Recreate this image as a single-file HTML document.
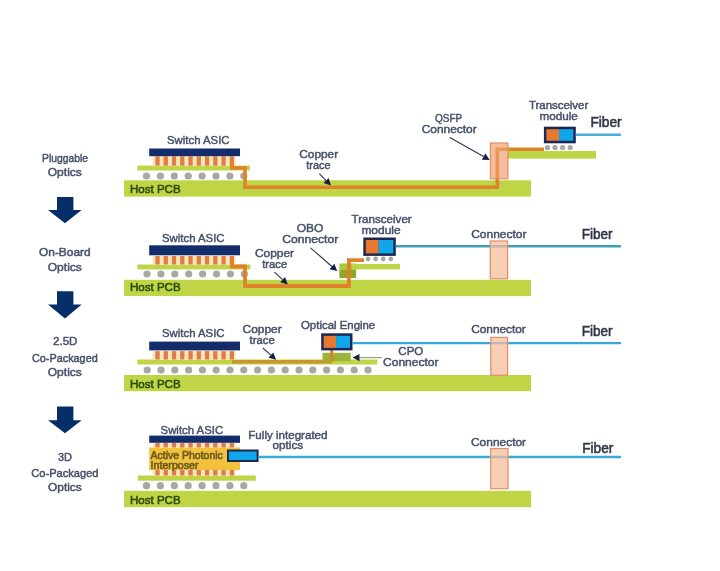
<!DOCTYPE html>
<html><head><meta charset="utf-8"><style>
html,body{margin:0;padding:0;background:#fff;}
svg{display:block;font-family:"Liberation Sans",sans-serif;filter:blur(0.7px);}
</style></head><body>
<svg width="720" height="571" viewBox="0 0 720 571">
<rect width="720" height="571" fill="#ffffff"/>
<text x="42.00" y="161.50" font-size="11" fill="#46506a" stroke="#46506a" stroke-width="0.45" font-weight="normal" textLength="46.00" lengthAdjust="spacingAndGlyphs">Pluggable</text>
<text x="47.80" y="175.50" font-size="11" fill="#46506a" stroke="#46506a" stroke-width="0.45" font-weight="normal" textLength="34.00" lengthAdjust="spacingAndGlyphs">Optics</text>
<polygon points="57.00,197.00 73.40,197.00 73.40,210.00 81.60,210.00 65.00,223.30 48.00,210.00 57.00,210.00" fill="#062e68"/>
<text x="39.00" y="256.30" font-size="11" fill="#46506a" stroke="#46506a" stroke-width="0.45" font-weight="normal" textLength="51.70" lengthAdjust="spacingAndGlyphs">On-Board</text>
<text x="47.80" y="270.50" font-size="11" fill="#46506a" stroke="#46506a" stroke-width="0.45" font-weight="normal" textLength="34.00" lengthAdjust="spacingAndGlyphs">Optics</text>
<polygon points="57.00,291.30 73.40,291.30 73.40,304.50 81.60,304.50 65.00,318.40 48.00,304.50 57.00,304.50" fill="#062e68"/>
<text x="53.00" y="345.00" font-size="11" fill="#46506a" stroke="#46506a" stroke-width="0.45" font-weight="normal" textLength="24.50" lengthAdjust="spacingAndGlyphs">2.5D</text>
<text x="32.00" y="361.50" font-size="11" fill="#46506a" stroke="#46506a" stroke-width="0.45" font-weight="normal" textLength="65.70" lengthAdjust="spacingAndGlyphs">Co-Packaged</text>
<text x="47.80" y="375.50" font-size="11" fill="#46506a" stroke="#46506a" stroke-width="0.45" font-weight="normal" textLength="34.00" lengthAdjust="spacingAndGlyphs">Optics</text>
<polygon points="57.00,406.40 73.40,406.40 73.40,420.20 81.60,420.20 65.00,433.20 48.00,420.20 57.00,420.20" fill="#062e68"/>
<text x="57.90" y="460.60" font-size="11" fill="#46506a" stroke="#46506a" stroke-width="0.45" font-weight="normal" textLength="14.00" lengthAdjust="spacingAndGlyphs">3D</text>
<text x="31.30" y="476.70" font-size="11" fill="#46506a" stroke="#46506a" stroke-width="0.45" font-weight="normal" textLength="67.20" lengthAdjust="spacingAndGlyphs">Co-Packaged</text>
<text x="48.10" y="491.40" font-size="11" fill="#46506a" stroke="#46506a" stroke-width="0.45" font-weight="normal" textLength="33.60" lengthAdjust="spacingAndGlyphs">Optics</text>
<rect x="124.00" y="180.30" width="407.00" height="16.30" fill="#bfd545" />
<text x="130.00" y="192.80" font-size="11.7" fill="#2c4a0c" stroke="#2c4a0c" stroke-width="0.55" font-weight="normal" textLength="50.60" lengthAdjust="spacingAndGlyphs">Host PCB</text>
<circle cx="146.50" cy="176.00" r="3.60" fill="#a6a8a2"/>
<circle cx="160.40" cy="176.00" r="3.60" fill="#a6a8a2"/>
<circle cx="174.30" cy="176.00" r="3.60" fill="#a6a8a2"/>
<circle cx="188.20" cy="176.00" r="3.60" fill="#a6a8a2"/>
<circle cx="202.10" cy="176.00" r="3.60" fill="#a6a8a2"/>
<circle cx="216.00" cy="176.00" r="3.60" fill="#a6a8a2"/>
<circle cx="229.90" cy="176.00" r="3.60" fill="#a6a8a2"/>
<circle cx="243.80" cy="176.00" r="3.60" fill="#a6a8a2"/>
<rect x="137.40" y="165.60" width="112.60" height="4.90" fill="#bfd545" />
<rect x="152.50" y="156.30" width="83.00" height="9.30" fill="#fbe6b8" />
<rect x="155.35" y="156.30" width="4.30" height="9.30" fill="#df7c4a" />
<rect x="163.61" y="156.30" width="4.30" height="9.30" fill="#df7c4a" />
<rect x="171.87" y="156.30" width="4.30" height="9.30" fill="#df7c4a" />
<rect x="180.13" y="156.30" width="4.30" height="9.30" fill="#df7c4a" />
<rect x="188.39" y="156.30" width="4.30" height="9.30" fill="#df7c4a" />
<rect x="196.65" y="156.30" width="4.30" height="9.30" fill="#df7c4a" />
<rect x="204.91" y="156.30" width="4.30" height="9.30" fill="#df7c4a" />
<rect x="213.17" y="156.30" width="4.30" height="9.30" fill="#df7c4a" />
<rect x="221.43" y="156.30" width="4.30" height="9.30" fill="#df7c4a" />
<rect x="229.69" y="156.30" width="4.30" height="9.30" fill="#df7c4a" />
<text x="167.00" y="143.75" font-size="11.5" fill="#46506a" stroke="#46506a" stroke-width="0.45" font-weight="normal" textLength="62.50" lengthAdjust="spacingAndGlyphs">Switch ASIC</text>
<rect x="149.20" y="148.50" width="90.80" height="7.70" fill="#122d69" />
<rect x="508.00" y="151.00" width="88.00" height="7.60" fill="#bfd545" />
<rect x="490.40" y="143.00" width="17.50" height="35.80" fill="#f6bb9a" />
<path d="M232 160 V168 H245 V187.2 H497.3 V149.3 H544" stroke="#e0822a" stroke-width="3.6" fill="none" />
<rect x="490.40" y="143.00" width="17.50" height="35.80" fill="#f7c2a4" fill-opacity="0.35" stroke="#de8e68" stroke-width="1.2"/>
<circle cx="547.40" cy="147.50" r="2.60" fill="#a6a8a2"/>
<circle cx="555.00" cy="147.50" r="2.60" fill="#a6a8a2"/>
<circle cx="562.60" cy="147.50" r="2.60" fill="#a6a8a2"/>
<circle cx="570.20" cy="147.50" r="2.60" fill="#a6a8a2"/>
<rect x="543.90" y="126.70" width="31.90" height="16.60" fill="#1c2752" />
<rect x="546.40" y="129.20" width="12.64" height="11.60" fill="#e8782f" />
<rect x="559.04" y="129.20" width="14.26" height="11.60" fill="#10a6ea" />
<path d="M575.8 134.8 H621" stroke="#4aaedc" stroke-width="2.4" fill="none" />
<text x="590.40" y="127.20" font-size="14" fill="#313748" stroke="#313748" stroke-width="0.55" font-weight="normal" textLength="31.30" lengthAdjust="spacingAndGlyphs">Fiber</text>
<text x="528.90" y="108.50" font-size="11" fill="#46506a" stroke="#46506a" stroke-width="0.45" font-weight="normal" textLength="59.40" lengthAdjust="spacingAndGlyphs">Transceiver</text>
<text x="539.40" y="119.50" font-size="11" fill="#46506a" stroke="#46506a" stroke-width="0.45" font-weight="normal" textLength="38.40" lengthAdjust="spacingAndGlyphs">module</text>
<text x="435.00" y="121.70" font-size="11" fill="#46506a" stroke="#46506a" stroke-width="0.45" font-weight="normal" textLength="27.20" lengthAdjust="spacingAndGlyphs">QSFP</text>
<text x="421.70" y="132.80" font-size="11" fill="#46506a" stroke="#46506a" stroke-width="0.45" font-weight="normal" textLength="55.00" lengthAdjust="spacingAndGlyphs">Connector</text>
<line x1="449.80" y1="137.50" x2="483.60" y2="156.56" stroke="#2a3550" stroke-width="1.1"/>
<polygon points="489.70,160.00 481.83,159.70 485.37,153.43" fill="#15204a"/>
<text x="299.20" y="158.00" font-size="11" fill="#46506a" stroke="#46506a" stroke-width="0.45" font-weight="normal" textLength="39.00" lengthAdjust="spacingAndGlyphs">Copper</text>
<text x="306.20" y="169.00" font-size="11" fill="#46506a" stroke="#46506a" stroke-width="0.45" font-weight="normal" textLength="24.50" lengthAdjust="spacingAndGlyphs">trace</text>
<line x1="319.30" y1="173.70" x2="326.07" y2="180.53" stroke="#2a3550" stroke-width="1.1"/>
<polygon points="331.00,185.50 323.51,183.06 328.63,177.99" fill="#15204a"/>
<rect x="124.00" y="279.80" width="407.00" height="16.30" fill="#bfd545" />
<text x="130.00" y="291.30" font-size="11.7" fill="#2c4a0c" stroke="#2c4a0c" stroke-width="0.55" font-weight="normal" textLength="50.60" lengthAdjust="spacingAndGlyphs">Host PCB</text>
<circle cx="147.00" cy="274.00" r="3.60" fill="#a6a8a2"/>
<circle cx="160.90" cy="274.00" r="3.60" fill="#a6a8a2"/>
<circle cx="174.80" cy="274.00" r="3.60" fill="#a6a8a2"/>
<circle cx="188.70" cy="274.00" r="3.60" fill="#a6a8a2"/>
<circle cx="202.60" cy="274.00" r="3.60" fill="#a6a8a2"/>
<circle cx="216.50" cy="274.00" r="3.60" fill="#a6a8a2"/>
<circle cx="230.40" cy="274.00" r="3.60" fill="#a6a8a2"/>
<circle cx="244.30" cy="274.00" r="3.60" fill="#a6a8a2"/>
<rect x="137.40" y="264.50" width="113.00" height="4.90" fill="#bfd545" />
<rect x="152.50" y="256.00" width="83.00" height="8.50" fill="#fbe6b8" />
<rect x="155.35" y="256.00" width="4.30" height="8.50" fill="#df7c4a" />
<rect x="163.61" y="256.00" width="4.30" height="8.50" fill="#df7c4a" />
<rect x="171.87" y="256.00" width="4.30" height="8.50" fill="#df7c4a" />
<rect x="180.13" y="256.00" width="4.30" height="8.50" fill="#df7c4a" />
<rect x="188.39" y="256.00" width="4.30" height="8.50" fill="#df7c4a" />
<rect x="196.65" y="256.00" width="4.30" height="8.50" fill="#df7c4a" />
<rect x="204.91" y="256.00" width="4.30" height="8.50" fill="#df7c4a" />
<rect x="213.17" y="256.00" width="4.30" height="8.50" fill="#df7c4a" />
<rect x="221.43" y="256.00" width="4.30" height="8.50" fill="#df7c4a" />
<rect x="229.69" y="256.00" width="4.30" height="8.50" fill="#df7c4a" />
<text x="162.00" y="241.75" font-size="11.5" fill="#46506a" stroke="#46506a" stroke-width="0.45" font-weight="normal" textLength="62.50" lengthAdjust="spacingAndGlyphs">Switch ASIC</text>
<rect x="149.20" y="245.30" width="90.80" height="10.00" fill="#122d69" />
<rect x="339.40" y="263.50" width="16.70" height="7.00" fill="#a9c83a" />
<rect x="339.40" y="270.00" width="16.70" height="8.00" fill="#8ea62a" />
<rect x="352.00" y="264.00" width="48.00" height="5.40" fill="#bfd545" />
<path d="M232 259 V266.5 H245 V286 H348.9 V260.2 H364" stroke="#e0822a" stroke-width="3.8" fill="none" />
<circle cx="368.00" cy="259.00" r="2.40" fill="#a6a8a2"/>
<circle cx="375.60" cy="259.00" r="2.40" fill="#a6a8a2"/>
<circle cx="383.20" cy="259.00" r="2.40" fill="#a6a8a2"/>
<circle cx="390.80" cy="259.00" r="2.40" fill="#a6a8a2"/>
<rect x="363.30" y="237.50" width="32.50" height="18.40" fill="#1c2752" />
<rect x="365.80" y="240.00" width="12.92" height="13.40" fill="#e8782f" />
<rect x="378.73" y="240.00" width="14.58" height="13.40" fill="#10a6ea" />
<path d="M395.8 246.2 H621" stroke="#3a9fb8" stroke-width="2.4" fill="none" />
<rect x="490.20" y="241.00" width="17.40" height="37.80" fill="#f6bb9a" stroke="#de8e68" stroke-width="1.2" fill-opacity="0.72"/>
<text x="471.20" y="237.50" font-size="11" fill="#46506a" stroke="#46506a" stroke-width="0.45" font-weight="normal" textLength="55.30" lengthAdjust="spacingAndGlyphs">Connector</text>
<text x="581.70" y="239.20" font-size="14" fill="#313748" stroke="#313748" stroke-width="0.55" font-weight="normal" textLength="30.80" lengthAdjust="spacingAndGlyphs">Fiber</text>
<text x="351.60" y="223.40" font-size="11" fill="#46506a" stroke="#46506a" stroke-width="0.45" font-weight="normal" textLength="60.10" lengthAdjust="spacingAndGlyphs">Transceiver</text>
<text x="361.40" y="233.80" font-size="11" fill="#46506a" stroke="#46506a" stroke-width="0.45" font-weight="normal" textLength="39.30" lengthAdjust="spacingAndGlyphs">module</text>
<text x="296.70" y="232.20" font-size="11" fill="#46506a" stroke="#46506a" stroke-width="0.45" font-weight="normal" textLength="26.60" lengthAdjust="spacingAndGlyphs">OBO</text>
<text x="282.20" y="243.30" font-size="11" fill="#46506a" stroke="#46506a" stroke-width="0.45" font-weight="normal" textLength="56.10" lengthAdjust="spacingAndGlyphs">Connector</text>
<line x1="310.50" y1="247.80" x2="331.93" y2="266.50" stroke="#2a3550" stroke-width="1.1"/>
<polygon points="337.20,271.10 329.56,269.21 334.29,263.79" fill="#15204a"/>
<text x="255.00" y="257.00" font-size="11" fill="#46506a" stroke="#46506a" stroke-width="0.45" font-weight="normal" textLength="39.00" lengthAdjust="spacingAndGlyphs">Copper</text>
<text x="262.20" y="267.80" font-size="11" fill="#46506a" stroke="#46506a" stroke-width="0.45" font-weight="normal" textLength="25.00" lengthAdjust="spacingAndGlyphs">trace</text>
<line x1="274.40" y1="272.20" x2="282.62" y2="279.69" stroke="#2a3550" stroke-width="1.1"/>
<polygon points="287.80,284.40 280.20,282.35 285.05,277.03" fill="#15204a"/>
<rect x="124.00" y="375.00" width="407.00" height="16.20" fill="#bfd545" />
<text x="130.00" y="387.60" font-size="11.7" fill="#2c4a0c" stroke="#2c4a0c" stroke-width="0.55" font-weight="normal" textLength="50.60" lengthAdjust="spacingAndGlyphs">Host PCB</text>
<circle cx="147.20" cy="370.00" r="3.60" fill="#a6a8a2"/>
<circle cx="161.00" cy="370.00" r="3.60" fill="#a6a8a2"/>
<circle cx="174.80" cy="370.00" r="3.60" fill="#a6a8a2"/>
<circle cx="188.60" cy="370.00" r="3.60" fill="#a6a8a2"/>
<circle cx="202.40" cy="370.00" r="3.60" fill="#a6a8a2"/>
<circle cx="216.20" cy="370.00" r="3.60" fill="#a6a8a2"/>
<circle cx="230.00" cy="370.00" r="3.60" fill="#a6a8a2"/>
<circle cx="243.80" cy="370.00" r="3.60" fill="#a6a8a2"/>
<circle cx="257.60" cy="370.00" r="3.60" fill="#a6a8a2"/>
<circle cx="271.40" cy="370.00" r="3.60" fill="#a6a8a2"/>
<circle cx="285.20" cy="370.00" r="3.60" fill="#a6a8a2"/>
<circle cx="299.00" cy="370.00" r="3.60" fill="#a6a8a2"/>
<circle cx="312.80" cy="370.00" r="3.60" fill="#a6a8a2"/>
<circle cx="326.60" cy="370.00" r="3.60" fill="#a6a8a2"/>
<circle cx="340.40" cy="370.00" r="3.60" fill="#a6a8a2"/>
<circle cx="354.20" cy="370.00" r="3.60" fill="#a6a8a2"/>
<circle cx="368.00" cy="370.00" r="3.60" fill="#a6a8a2"/>
<rect x="137.40" y="359.50" width="240.00" height="5.00" fill="#bfd545" />
<rect x="152.50" y="351.20" width="83.00" height="8.30" fill="#fbe6b8" />
<rect x="155.35" y="351.20" width="4.30" height="8.30" fill="#df7c4a" />
<rect x="163.61" y="351.20" width="4.30" height="8.30" fill="#df7c4a" />
<rect x="171.87" y="351.20" width="4.30" height="8.30" fill="#df7c4a" />
<rect x="180.13" y="351.20" width="4.30" height="8.30" fill="#df7c4a" />
<rect x="188.39" y="351.20" width="4.30" height="8.30" fill="#df7c4a" />
<rect x="196.65" y="351.20" width="4.30" height="8.30" fill="#df7c4a" />
<rect x="204.91" y="351.20" width="4.30" height="8.30" fill="#df7c4a" />
<rect x="213.17" y="351.20" width="4.30" height="8.30" fill="#df7c4a" />
<rect x="221.43" y="351.20" width="4.30" height="8.30" fill="#df7c4a" />
<rect x="229.69" y="351.20" width="4.30" height="8.30" fill="#df7c4a" />
<text x="162.00" y="337.00" font-size="11.5" fill="#46506a" stroke="#46506a" stroke-width="0.45" font-weight="normal" textLength="62.50" lengthAdjust="spacingAndGlyphs">Switch ASIC</text>
<rect x="149.20" y="341.60" width="90.80" height="8.80" fill="#122d69" />
<path d="M232 361.8 H331.7" stroke="#c8952e" stroke-width="3.4" fill="none" />
<rect x="322.50" y="352.80" width="28.20" height="8.40" fill="#9cb43a" />
<path d="M331.7 350 V361" stroke="#e0822a" stroke-width="3.0" fill="none" />
<rect x="321.20" y="333.30" width="31.30" height="17.10" fill="#1c2752" />
<rect x="323.70" y="335.80" width="12.36" height="12.10" fill="#e8782f" />
<rect x="336.06" y="335.80" width="13.94" height="12.10" fill="#10a6ea" />
<path d="M352.5 343.1 H621" stroke="#35a9dc" stroke-width="2.4" fill="none" />
<line x1="381.70" y1="357.60" x2="359.50" y2="357.60" stroke="#8a9a70" stroke-width="1.1"/>
<polygon points="352.50,357.60 359.50,354.00 359.50,361.20" fill="#15204a"/>
<text x="398.30" y="354.90" font-size="11" fill="#46506a" stroke="#46506a" stroke-width="0.45" font-weight="normal" textLength="25.00" lengthAdjust="spacingAndGlyphs">CPO</text>
<text x="383.00" y="366.00" font-size="11" fill="#46506a" stroke="#46506a" stroke-width="0.45" font-weight="normal" textLength="55.60" lengthAdjust="spacingAndGlyphs">Connector</text>
<text x="301.00" y="328.50" font-size="11" fill="#46506a" stroke="#46506a" stroke-width="0.45" font-weight="normal" textLength="74.20" lengthAdjust="spacingAndGlyphs">Optical Engine</text>
<rect x="490.80" y="337.40" width="16.80" height="37.80" fill="#f6bb9a" stroke="#de8e68" stroke-width="1.2" fill-opacity="0.72"/>
<text x="471.20" y="332.50" font-size="11" fill="#46506a" stroke="#46506a" stroke-width="0.45" font-weight="normal" textLength="54.60" lengthAdjust="spacingAndGlyphs">Connector</text>
<text x="581.70" y="336.00" font-size="14" fill="#313748" stroke="#313748" stroke-width="0.55" font-weight="normal" textLength="30.80" lengthAdjust="spacingAndGlyphs">Fiber</text>
<text x="242.50" y="332.50" font-size="11" fill="#46506a" stroke="#46506a" stroke-width="0.45" font-weight="normal" textLength="39.20" lengthAdjust="spacingAndGlyphs">Copper</text>
<text x="249.50" y="343.70" font-size="11" fill="#46506a" stroke="#46506a" stroke-width="0.45" font-weight="normal" textLength="25.20" lengthAdjust="spacingAndGlyphs">trace</text>
<line x1="262.80" y1="348.00" x2="270.86" y2="355.15" stroke="#2a3550" stroke-width="1.1"/>
<polygon points="276.10,359.80 268.47,357.85 273.25,352.46" fill="#15204a"/>
<rect x="124.00" y="490.80" width="407.00" height="16.40" fill="#bfd545" />
<text x="130.00" y="503.60" font-size="11.7" fill="#2c4a0c" stroke="#2c4a0c" stroke-width="0.55" font-weight="normal" textLength="50.60" lengthAdjust="spacingAndGlyphs">Host PCB</text>
<circle cx="146.50" cy="485.70" r="3.60" fill="#a6a8a2"/>
<circle cx="160.40" cy="485.70" r="3.60" fill="#a6a8a2"/>
<circle cx="174.30" cy="485.70" r="3.60" fill="#a6a8a2"/>
<circle cx="188.20" cy="485.70" r="3.60" fill="#a6a8a2"/>
<circle cx="202.10" cy="485.70" r="3.60" fill="#a6a8a2"/>
<circle cx="216.00" cy="485.70" r="3.60" fill="#a6a8a2"/>
<circle cx="229.90" cy="485.70" r="3.60" fill="#a6a8a2"/>
<circle cx="243.80" cy="485.70" r="3.60" fill="#a6a8a2"/>
<rect x="137.80" y="475.50" width="118.00" height="5.20" fill="#bfd545" />
<rect x="152.50" y="470.00" width="83.00" height="5.50" fill="#fbe6b8" />
<rect x="155.35" y="470.00" width="4.30" height="5.50" fill="#df7c4a" />
<rect x="163.61" y="470.00" width="4.30" height="5.50" fill="#df7c4a" />
<rect x="171.87" y="470.00" width="4.30" height="5.50" fill="#df7c4a" />
<rect x="180.13" y="470.00" width="4.30" height="5.50" fill="#df7c4a" />
<rect x="188.39" y="470.00" width="4.30" height="5.50" fill="#df7c4a" />
<rect x="196.65" y="470.00" width="4.30" height="5.50" fill="#df7c4a" />
<rect x="204.91" y="470.00" width="4.30" height="5.50" fill="#df7c4a" />
<rect x="213.17" y="470.00" width="4.30" height="5.50" fill="#df7c4a" />
<rect x="221.43" y="470.00" width="4.30" height="5.50" fill="#df7c4a" />
<rect x="229.69" y="470.00" width="4.30" height="5.50" fill="#df7c4a" />
<rect x="149.20" y="447.50" width="90.80" height="22.50" fill="#f2c23e" />
<rect x="152.50" y="443.00" width="83.00" height="4.50" fill="#fbe6b8" />
<rect x="155.35" y="443.00" width="4.30" height="4.50" fill="#df7c4a" />
<rect x="163.61" y="443.00" width="4.30" height="4.50" fill="#df7c4a" />
<rect x="171.87" y="443.00" width="4.30" height="4.50" fill="#df7c4a" />
<rect x="180.13" y="443.00" width="4.30" height="4.50" fill="#df7c4a" />
<rect x="188.39" y="443.00" width="4.30" height="4.50" fill="#df7c4a" />
<rect x="196.65" y="443.00" width="4.30" height="4.50" fill="#df7c4a" />
<rect x="204.91" y="443.00" width="4.30" height="4.50" fill="#df7c4a" />
<rect x="213.17" y="443.00" width="4.30" height="4.50" fill="#df7c4a" />
<rect x="221.43" y="443.00" width="4.30" height="4.50" fill="#df7c4a" />
<rect x="229.69" y="443.00" width="4.30" height="4.50" fill="#df7c4a" />
<text x="160.60" y="434.25" font-size="11.5" fill="#46506a" stroke="#46506a" stroke-width="0.45" font-weight="normal" textLength="62.50" lengthAdjust="spacingAndGlyphs">Switch ASIC</text>
<rect x="149.20" y="435.60" width="90.80" height="7.20" fill="#122d69" />
<text x="150.60" y="459.40" font-size="10.5" fill="#6a5a20" stroke="#6a5a20" stroke-width="0.6" font-weight="normal" textLength="72.20" lengthAdjust="spacingAndGlyphs">Active Photonic</text>
<text x="150.60" y="469.20" font-size="10.5" fill="#6a5a20" stroke="#6a5a20" stroke-width="0.6" font-weight="normal" textLength="47.90" lengthAdjust="spacingAndGlyphs">Interposer</text>
<rect x="227.00" y="449.50" width="31.60" height="12.50" fill="#1c2752" />
<rect x="229.00" y="451.50" width="27.60" height="8.50" fill="#10a6ea" />
<path d="M258.6 457 H621" stroke="#3aaadc" stroke-width="2.4" fill="none" />
<text x="248.30" y="438.75" font-size="11" fill="#46506a" stroke="#46506a" stroke-width="0.45" font-weight="normal" textLength="79.20" lengthAdjust="spacingAndGlyphs">Fully integrated</text>
<text x="272.60" y="449.20" font-size="11" fill="#46506a" stroke="#46506a" stroke-width="0.45" font-weight="normal" textLength="30.60" lengthAdjust="spacingAndGlyphs">optics</text>
<rect x="490.70" y="448.60" width="17.30" height="40.20" fill="#f6bb9a" stroke="#de8e68" stroke-width="1.2" fill-opacity="0.72"/>
<text x="471.00" y="445.50" font-size="11" fill="#46506a" stroke="#46506a" stroke-width="0.45" font-weight="normal" textLength="55.10" lengthAdjust="spacingAndGlyphs">Connector</text>
<text x="582.20" y="452.50" font-size="14" fill="#313748" stroke="#313748" stroke-width="0.55" font-weight="normal" textLength="31.10" lengthAdjust="spacingAndGlyphs">Fiber</text>
</svg>
</body></html>
